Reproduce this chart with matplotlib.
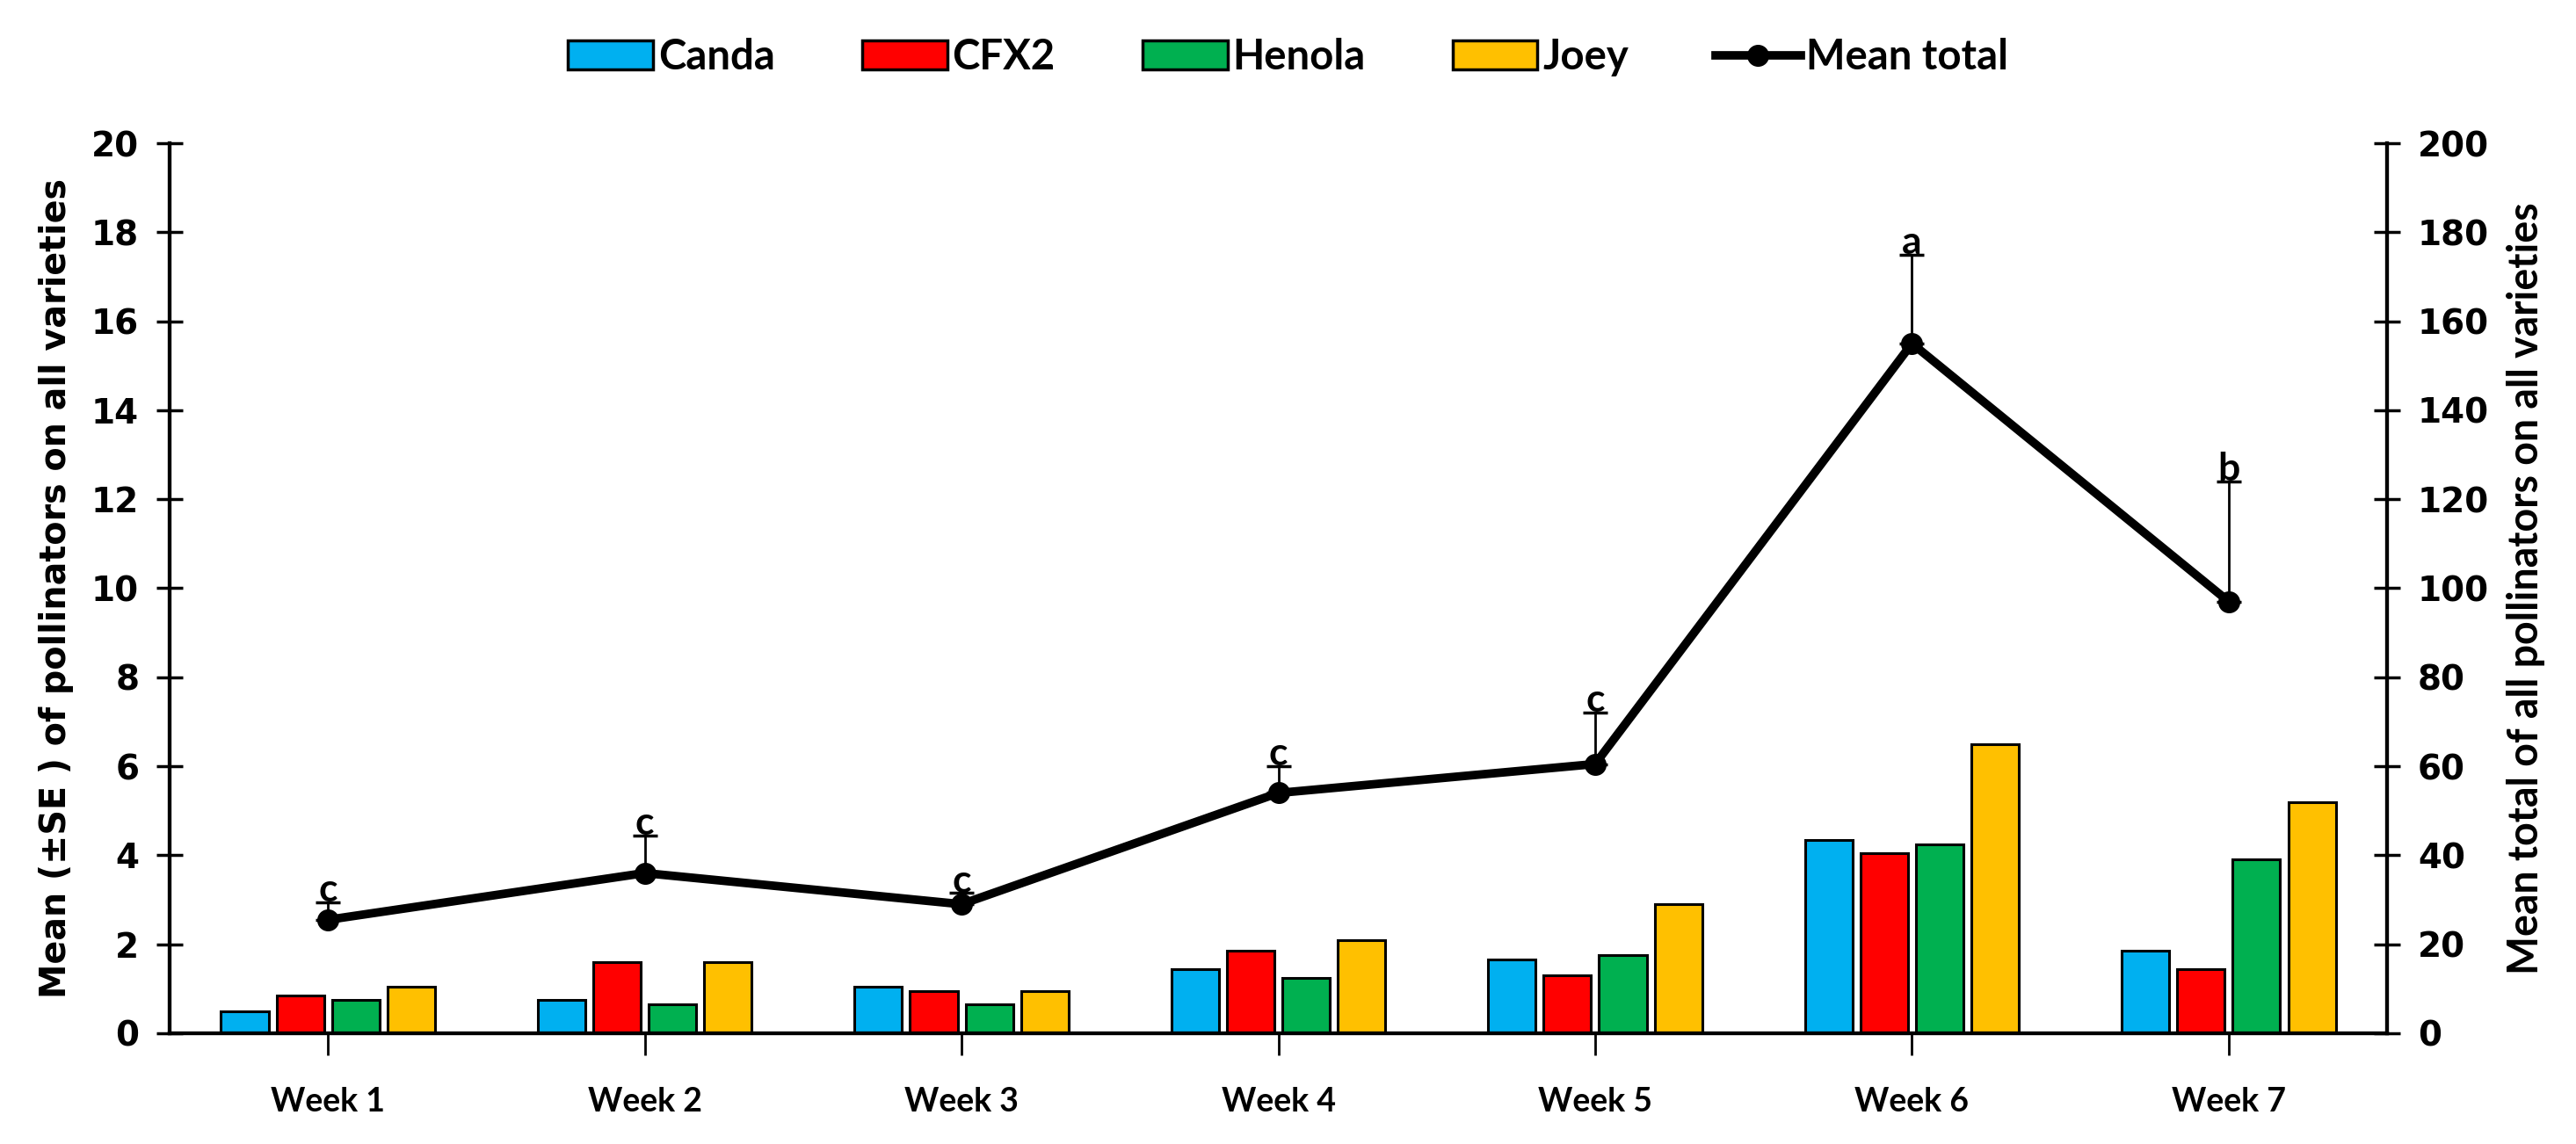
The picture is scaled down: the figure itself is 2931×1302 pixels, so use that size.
import matplotlib
matplotlib.use("Agg")
import matplotlib.pyplot as plt
import numpy as np
from matplotlib.lines import Line2D
from matplotlib.patches import Patch

weeks = ["Week 1", "Week 2", "Week 3", "Week 4", "Week 5", "Week 6", "Week 7"]
varieties = ["Canda", "CFX2", "Henola", "Joey"]
canda = [0.5, 0.75, 1.05, 1.45, 1.65, 4.35, 1.85]
cfx2 = [0.85, 1.6, 0.95, 1.85, 1.3, 4.05, 1.45]
henola = [0.75, 0.65, 0.65, 1.25, 1.75, 4.25, 3.9]
joey = [1.05, 1.6, 0.95, 2.1, 2.9, 6.5, 5.2]
mean_total = [25.5, 36.0, 29.0, 54.0, 60.5, 155.0, 97.0]
mean_se = [4.0, 8.5, 2.5, 6.0, 11.5, 20.0, 27.0]
letters = ["c", "c", "c", "c", "c", "a", "b"]
colors = ["#00B0F0", "#FF0000", "#00B050", "#FFC000"]

series = [canda, cfx2, henola, joey]

fig = plt.figure(figsize=(29.31, 13.02), dpi=100)
ax = fig.add_axes([0.0658, 0.0968, 0.8609, 0.778])
x = np.arange(len(weeks))
slot = 0.175
bw = 0.15
for i, (vals, c) in enumerate(zip(series, colors)):
    ax.bar(x + (i - 1.5) * slot, vals, width=bw, color=c, edgecolor="black", linewidth=2.2, zorder=2)

ax.set_xlim(-0.5, 6.5)
ax.set_ylim(0, 20)
ax.set_yticks(np.arange(0, 21, 2))
ax.set_xticks(x)
ax.set_xticklabels(weeks, fontsize=27, fontweight="bold", family="Lato")
for lab in ax.get_yticklabels():
    lab.set_fontsize(28)
    lab.set_fontweight("bold")
    lab.set_family("DejaVu Sans")
ax.tick_params(axis="y", direction="inout", length=22, width=2.5, pad=14)
ax.tick_params(axis="x", direction="out", length=18, width=2.0, pad=26)
ax.spines["top"].set_visible(False)
for s in ["left", "right", "bottom"]:
    ax.spines[s].set_linewidth(3)
ax.set_ylabel("Mean (±SE ) of pollinators on all varieties", fontsize=28.5, fontweight="bold",
              family="DejaVu Sans", labelpad=14)

ax2 = ax.twinx()
ax2.set_ylim(0, 200)
ax2.set_yticks(np.arange(0, 201, 20))
ax2.errorbar(x, mean_total, yerr=[np.zeros(len(x)), mean_se], fmt="none", ecolor="black",
             elinewidth=2.0, capsize=10, capthick=2.5, zorder=3)
ax2.plot(x, mean_total, color="black", linewidth=7, marker="o", markersize=17, zorder=4)
for xi, m, se, l in zip(x, mean_total, mean_se, letters):
    ax2.text(xi, m + se - 1.2, l, ha="center", va="bottom", fontsize=32, fontweight="bold", family="Lato")
for lab in ax2.get_yticklabels():
    lab.set_fontsize(28)
    lab.set_fontweight("bold")
    lab.set_family("DejaVu Sans")
ax2.tick_params(axis="y", direction="inout", length=22, width=2.5, pad=14)
ax2.spines["top"].set_visible(False)
for s in ["left", "right", "bottom"]:
    ax2.spines[s].set_linewidth(3)
ax2.set_ylabel("Mean total of all pollinators on all varieties", fontsize=33.5, fontweight="bold",
               family="Lato", labelpad=14)

handles = [Patch(facecolor=c, edgecolor="black", linewidth=2.5, label=v) for v, c in zip(varieties, colors)]
handles.append(Line2D([0], [0], color="black", linewidth=7, marker="o", markersize=17, label="Mean total"))
leg = fig.legend(handles=handles, loc="center", bbox_to_anchor=(0.5, 0.95), ncol=5, frameon=False,
                 prop={"family": "Lato", "weight": "bold", "size": 34}, handlelength=2.05,
                 handleheight=0.7, handletextpad=0.12, columnspacing=2.1)

fig.savefig("out.png", dpi=100)
